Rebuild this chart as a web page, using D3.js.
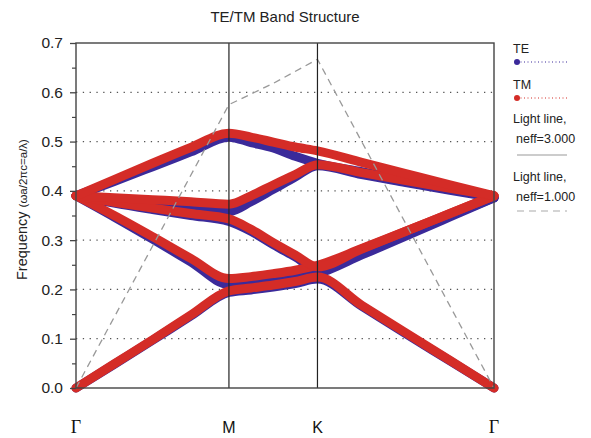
<!DOCTYPE html>
<html>
<head>
<meta charset="utf-8">
<script src="https://cdn.jsdelivr.net/npm/d3@7.9.0/dist/d3.min.js"></script>
<style>
  body { margin: 0; background: #fff; }
  svg { font-family: "Liberation Sans", Arial, sans-serif; }
</style>
</head>
<body>
<svg id="chart" width="591" height="438"></svg>
<script>
// k positions along Γ-M-K-Γ (in 2π/a)
const kPts = [0, 0.144, 0.289, 0.433, 0.577, 0.660, 0.744, 0.827, 0.911, 1.078, 1.244, 1.411, 1.577];
const kTicks = [0, 0.577, 0.911, 1.577];
const kLabels = ["Γ", "M", "K", "Γ"];
const yTicks = [0, 0.1, 0.2, 0.3, 0.4, 0.5, 0.6, 0.7];
const yMinor = [0.05, 0.15, 0.25, 0.35, 0.45, 0.55, 0.65];
const gridTicks = [0.1, 0.2, 0.3, 0.4, 0.5, 0.6];

// TE bands
const te1 = [0, 0.048, 0.097, 0.146, 0.194, 0.199, 0.205, 0.212, 0.221, 0.166, 0.11, 0.055, 0];
const te2 = [0.39, 0.347, 0.302, 0.256, 0.21, 0.213, 0.218, 0.224, 0.232, 0.27, 0.308, 0.347, 0.386];
const te3 = [0.39, 0.375, 0.362, 0.35, 0.338, 0.318, 0.291, 0.266, 0.24, 0.276, 0.313, 0.35, 0.386];
const te4 = [0.39, 0.382, 0.374, 0.366, 0.358, 0.378, 0.403, 0.428, 0.451, 0.433, 0.417, 0.401, 0.386];
const te5 = [0.39, 0.419, 0.449, 0.479, 0.509, 0.498, 0.487, 0.47, 0.456, 0.439, 0.422, 0.405, 0.386];

// TM bands
const tm1 = [0, 0.049, 0.098, 0.148, 0.197, 0.203, 0.209, 0.216, 0.225, 0.168, 0.112, 0.056, 0];
const tm2 = [0.39, 0.35, 0.307, 0.263, 0.222, 0.226, 0.232, 0.239, 0.249, 0.283, 0.318, 0.354, 0.39];
const tm3 = [0.39, 0.377, 0.365, 0.354, 0.343, 0.322, 0.295, 0.27, 0.246, 0.282, 0.318, 0.354, 0.39];
const tm4 = [0.39, 0.386, 0.382, 0.378, 0.373, 0.39, 0.412, 0.433, 0.453, 0.437, 0.421, 0.405, 0.39];
const tm5 = [0.39, 0.423, 0.456, 0.488, 0.517, 0.509, 0.499, 0.489, 0.481, 0.458, 0.435, 0.412, 0.39];

// light lines
const lightK = [0, 0.577, 0.744, 0.911, 1.577];
const light3 = [0, 0.192, 0.205, 0.222, 0];
const light1 = [0, 0.575, 0.618, 0.667, 0];

const teColor = "#3b2a9a";
const tmColor = "#d42c27";

const svg = d3.select("#chart");
const x = d3.scaleLinear().domain([0, 1.577]).range([76, 494]);
const y = d3.scaleLinear().domain([0, 0.7]).range([388, 43]);

// title
svg.append("text")
  .attr("x", 285).attr("y", 22)
  .attr("text-anchor", "middle")
  .attr("font-size", 15).attr("fill", "#222")
  .text("TE/TM Band Structure");

// dotted grid
svg.append("g").selectAll("line").data(gridTicks).join("line")
  .attr("x1", x(0)).attr("x2", x(1.577))
  .attr("y1", d => y(d)).attr("y2", d => y(d))
  .attr("stroke", "#555").attr("stroke-width", 1.3)
  .attr("stroke-dasharray", "1.3,5.5");

// light line neff=3 (under bands)
const lineGen = d3.line().x((d, i) => x(lightK[i])).y(d => y(d));
svg.append("path").attr("d", lineGen(light3))
  .attr("fill", "none").attr("stroke", "#999").attr("stroke-width", 1.2);

// bands
const band = d3.line().x((d, i) => x(kPts[i])).y(d => y(d)).curve(d3.curveMonotoneX);
[te1, te2, te3, te4, te5].forEach(b => {
  svg.append("path").attr("d", band(b))
    .attr("fill", "none").attr("stroke", teColor).attr("stroke-width", 9)
    .attr("stroke-linecap", "round").attr("stroke-linejoin", "round");
});
[tm1, tm2, tm3, tm4, tm5].forEach(b => {
  svg.append("path").attr("d", band(b))
    .attr("fill", "none").attr("stroke", tmColor).attr("stroke-width", 9)
    .attr("stroke-linecap", "round").attr("stroke-linejoin", "round");
});

// light line neff=1 (dashed, on top)
svg.append("path").attr("d", lineGen(light1))
  .attr("fill", "none").attr("stroke", "#999").attr("stroke-width", 1.3)
  .attr("stroke-dasharray", "7,5");

// vertical lines at M and K
svg.append("g").selectAll("line").data(kTicks.slice(1, 3)).join("line")
  .attr("x1", d => x(d)).attr("x2", d => x(d))
  .attr("y1", y(0)).attr("y2", y(0.7))
  .attr("stroke", "#222").attr("stroke-width", 1.2);

// frame
svg.append("rect")
  .attr("x", x(0)).attr("y", y(0.7))
  .attr("width", x(1.577) - x(0)).attr("height", y(0) - y(0.7))
  .attr("fill", "none").attr("stroke", "#444").attr("stroke-width", 1.4);

// y axis
const yAxis = svg.append("g").attr("transform", `translate(${x(0)},0)`)
  .call(d3.axisLeft(y).tickValues(yTicks).tickFormat(d3.format(".1f")).tickSize(6).tickSizeOuter(0).tickPadding(7));
yAxis.select(".domain").remove();
yAxis.selectAll("line").attr("stroke", "#444").attr("stroke-width", 1.3);
yAxis.selectAll("text").attr("font-size", 15.5).attr("fill", "#222")
  .attr("font-family", "Liberation Sans, Arial, sans-serif");

const yMinorAxis = svg.append("g").attr("transform", `translate(${x(0)},0)`)
  .call(d3.axisLeft(y).tickValues(yMinor).tickFormat("").tickSize(4).tickSizeOuter(0));
yMinorAxis.select(".domain").remove();
yMinorAxis.selectAll("line").attr("stroke", "#444").attr("stroke-width", 1.2);

// y label
svg.append("text")
  .attr("transform", "translate(27,280) rotate(-90)")
  .attr("text-anchor", "start").attr("fill", "#222")
  .attr("font-size", 14.5)
  .call(t => {
    t.append("tspan").text("Frequency ");
    t.append("tspan").attr("font-size", 11.5).text("(ωa/2πc=a/λ)");
  });

// x labels
svg.append("g").selectAll("text").data(kTicks).join("text")
  .attr("x", d => x(d)).attr("y", 433)
  .attr("text-anchor", "middle").attr("fill", "#111")
  .attr("font-family", (d, i) => kLabels[i] === "Γ" ? "Liberation Serif, Times New Roman, serif" : "Liberation Sans, Arial, sans-serif")
  .attr("font-size", (d, i) => kLabels[i] === "Γ" ? 18 : 16)
  .text((d, i) => kLabels[i]);

// legend
const lg = svg.append("g").attr("font-size", 12.5).attr("fill", "#222");
lg.append("text").attr("x", 513).attr("y", 53).text("TE");
lg.append("line").attr("x1", 517).attr("x2", 567).attr("y1", 62).attr("y2", 62)
  .attr("stroke", teColor).attr("stroke-dasharray", "1,2.5").attr("stroke-width", 1);
lg.append("circle").attr("cx", 517).attr("cy", 62).attr("r", 3).attr("fill", teColor);
lg.append("text").attr("x", 513).attr("y", 89).text("TM");
lg.append("line").attr("x1", 517).attr("x2", 567).attr("y1", 98).attr("y2", 98)
  .attr("stroke", tmColor).attr("stroke-dasharray", "1,2.5").attr("stroke-width", 1);
lg.append("circle").attr("cx", 517).attr("cy", 98).attr("r", 3).attr("fill", tmColor);
lg.append("text").attr("x", 513).attr("y", 123).text("Light line,");
lg.append("text").attr("x", 516).attr("y", 143).text("neff=3.000");
lg.append("line").attr("x1", 517).attr("x2", 567).attr("y1", 155).attr("y2", 155)
  .attr("stroke", "#999").attr("stroke-width", 1.2);
lg.append("text").attr("x", 513).attr("y", 181).text("Light line,");
lg.append("text").attr("x", 516).attr("y", 201).text("neff=1.000");
lg.append("line").attr("x1", 517).attr("x2", 567).attr("y1", 211).attr("y2", 211)
  .attr("stroke", "#aaa").attr("stroke-width", 1.2).attr("stroke-dasharray", "7,5");
</script>
</body>
</html>
